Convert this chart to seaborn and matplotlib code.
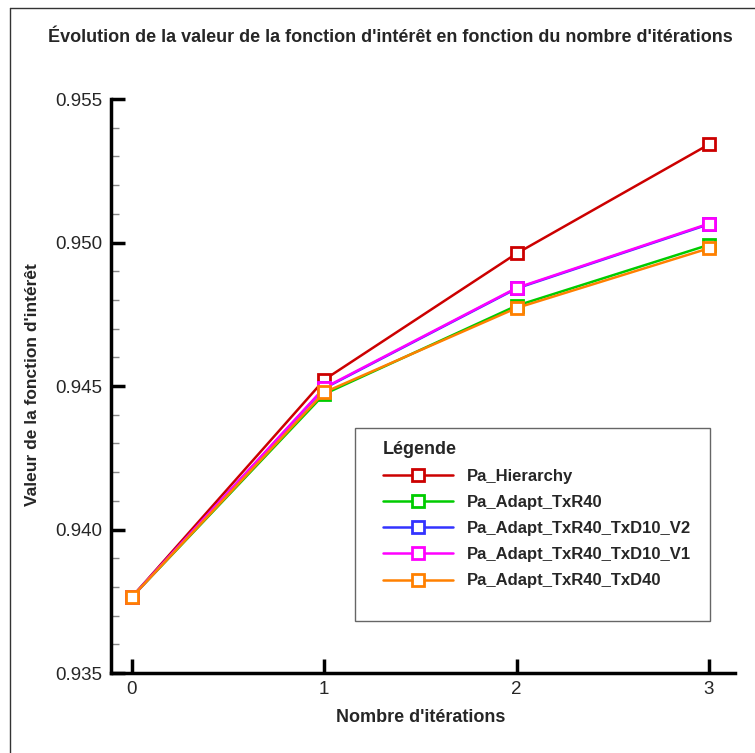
import matplotlib
matplotlib.use('Agg')
import matplotlib.pyplot as plt
from matplotlib.lines import Line2D
from matplotlib.patches import Rectangle
from matplotlib.ticker import MultipleLocator, FormatStrFormatter
import pandas as pd
import seaborn as sns

iterations = [0, 1, 2, 3]
series_names = ['Pa_Hierarchy', 'Pa_Adapt_TxR40', 'Pa_Adapt_TxR40_TxD10_V2',
                'Pa_Adapt_TxR40_TxD10_V1', 'Pa_Adapt_TxR40_TxD40']
pa_hierarchy = [0.93765, 0.94522, 0.94962, 0.95342]
pa_txr40 = [0.93765, 0.94472, 0.94780, 0.94992]
pa_txd10_v2 = [0.93765, 0.94492, 0.94840, 0.95064]
pa_txd10_v1 = [0.93765, 0.94494, 0.94842, 0.95066]
pa_txd40 = [0.93765, 0.94478, 0.94772, 0.94980]
colors = ['#cc0000', '#00cc00', '#3333ff', '#ff00ff', '#ff8000']

sns.set_style('white')
plt.rcParams['font.family'] = ['Liberation Sans', 'DejaVu Sans']

df = pd.DataFrame({'iter': iterations * 5,
                   'serie': [n for n in series_names for _ in iterations],
                   'val': pa_hierarchy + pa_txr40 + pa_txd10_v2 + pa_txd10_v1 + pa_txd40})

fig = plt.figure(figsize=(7.55, 7.53), dpi=100)
ax = fig.add_axes([0.147, 0.1062, 0.8265, 0.7623])

lw = 1.8
ms = 9
for name, color in zip(series_names, colors):
    sub = df[df['serie'] == name]
    sns.lineplot(data=sub, x='iter', y='val', ax=ax, color=color, lw=lw,
                 marker='s', markersize=ms, markerfacecolor='white',
                 markeredgecolor=color, markeredgewidth=2.0, legend=False)

ax.set_xlim(-0.109, 3.135)
ax.set_ylim(0.935, 0.955)
ax.xaxis.set_major_locator(MultipleLocator(1))
ax.yaxis.set_major_locator(MultipleLocator(0.005))
ax.yaxis.set_minor_locator(MultipleLocator(0.001))
ax.yaxis.set_major_formatter(FormatStrFormatter('%.3f'))
ax.tick_params(axis='both', which='major', direction='in', length=10, width=2.5,
               labelsize=13.5, color='black', pad=6, bottom=True, left=True)
ax.tick_params(axis='y', which='minor', direction='in', length=6, width=1,
               color='#888888', left=True)

for side in ['top', 'right']:
    ax.spines[side].set_visible(False)
for side in ['left', 'bottom']:
    ax.spines[side].set_linewidth(2.5)
    ax.spines[side].set_color('black')

ax.set_xlabel("Nombre d'itérations", fontsize=13, fontweight='bold', va='center')
ax.xaxis.set_label_coords(0.497, -0.078)
ax.set_ylabel("Valeur de la fonction d'intérêt", fontsize=12.5, fontweight='bold', va='center')
ax.yaxis.set_label_coords(-0.125, 0.502)
fig.text(390 / 755, 1 - 37 / 753,
         "Évolution de la valeur de la fonction d'intérêt en fonction du nombre d'itérations",
         ha='center', va='center', fontsize=13, fontweight='bold')

# legend box drawn by hand
ax.add_patch(Rectangle((0.391, 0.0906), 0.569, 0.3362, transform=ax.transAxes,
                       facecolor='white', edgecolor='#666666', lw=1.0, zorder=3))
handles = [Line2D([], [], color=c, lw=lw, marker='s', markersize=ms,
                  markerfacecolor='white', markeredgecolor=c, markeredgewidth=2.0)
           for c in colors]
leg = ax.legend(handles, series_names, title='Légende', loc='upper left',
                bbox_to_anchor=(0.436, 0.405), frameon=False,
                prop={'weight': 'bold', 'size': 12},
                handlelength=4.2, handletextpad=0.8, labelspacing=0.67,
                borderpad=0, borderaxespad=0, alignment='left')
leg.get_title().set_fontweight('bold')
leg.get_title().set_fontsize(13)
leg.set_zorder(4)

# cadre de la capture
fig.add_artist(Line2D([0.0133, 0.0133], [0, 0.9894], color='#333333', lw=1))
fig.add_artist(Line2D([0.0133, 1.0], [0.9894, 0.9894], color='#333333', lw=1))

fig.savefig('out.png', dpi=100)
